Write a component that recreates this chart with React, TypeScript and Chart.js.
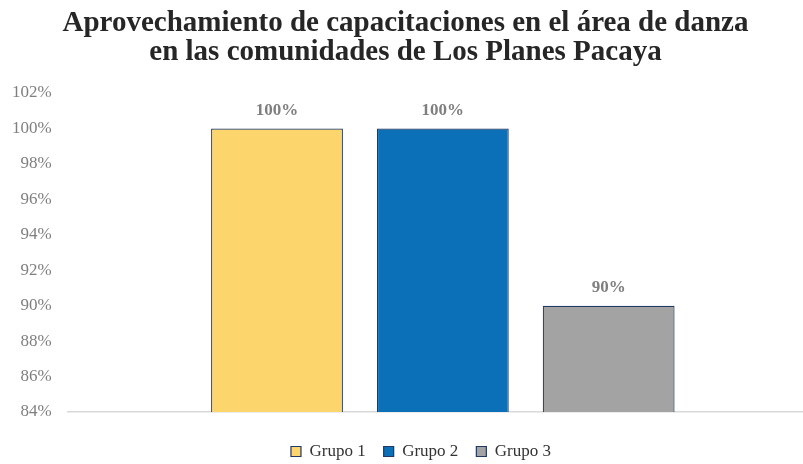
import React, { useEffect, useRef } from "react";
import { Chart, registerables } from "chart.js";

Chart.register(...registerables);

const titleLines = [
  "Aprovechamiento de capacitaciones en el área de danza",
  "en las comunidades de Los Planes Pacaya",
];
const categories = [""];
const groupNames = ["Grupo 1", "Grupo 2", "Grupo 3"];
const groupValues = [100, 100, 90];
const groupColors = ["#FCD66C", "#0C70B8", "#A3A3A3"];
const yMin = 84;
const yMax = 102;
const yStep = 2;

const SERIF = "'Liberation Serif', 'Times New Roman', serif";

const labelPlugin = {
  id: "barValueLabels",
  afterDatasetsDraw(chart: any) {
    const ctx = chart.ctx;
    ctx.save();
    ctx.font = `bold 17px ${SERIF}`;
    ctx.fillStyle = "#7F7F7F";
    ctx.textAlign = "center";
    ctx.textBaseline = "middle";
    chart.data.datasets.forEach((ds: any, i: number) => {
      const meta = chart.getDatasetMeta(i);
      meta.data.forEach((el: any, j: number) => {
        ctx.fillText(`${ds.data[j]}%`, el.x, el.y - 18);
      });
    });
    ctx.restore();
  },
};

const shiftPlugin = {
  id: "shiftBlocks",
  afterLayout(chart: any) {
    const t = chart.titleBlock;
    if (t) t.right -= 11;
    const l = chart.legend;
    if (l) {
      l.left += 10;
      l.right += 10;
    }
  },
};

export default function App() {
  const ref = useRef<HTMLCanvasElement>(null);
  useEffect(() => {
    if (!ref.current) return;
    const chart = new Chart(ref.current, {
      type: "bar",
      data: {
        labels: categories,
        datasets: groupNames.map((name, i) => ({
          label: name,
          data: [groupValues[i]],
          backgroundColor: groupColors[i],
          borderColor: "#1F3864",
          borderWidth: 1.2,
          categoryPercentage: 0.663,
          barPercentage: 0.795,
        })),
      },
      options: {
        animation: false,
        responsive: false,
        layout: { padding: { left: 4, right: 0, top: 0, bottom: -6 } },
        plugins: {
          title: {
            display: true,
            text: titleLines,
            color: "#262626",
            font: { family: SERIF, size: 29, weight: "bold", lineHeight: 0.966 },
            padding: { top: 10, bottom: 27 },
          },
          legend: {
            display: true,
            position: "bottom",
            labels: {
              boxWidth: 10,
              boxHeight: 10,
              padding: 18,
              color: "#333333",
              font: { family: SERIF, size: 17 },
            },
          },
          tooltip: { enabled: false },
        },
        scales: {
          x: {
            grid: { display: false },
            border: { display: true, color: "#D9D9D9", width: 1.5 },
            ticks: { display: false },
            afterFit: (scale: any) => {
              scale.height = 13;
            },
          },
          y: {
            min: yMin,
            max: yMax,
            grid: { display: false },
            border: { display: false },
            ticks: {
              stepSize: yStep,
              padding: 8,
              color: "#7F7F7F",
              font: { family: SERIF, size: 17 },
              callback: (v: any) => `${v}%`,
            },
          },
        },
      },
      plugins: [labelPlugin, shiftPlugin],
    });
    return () => chart.destroy();
  }, []);
  return (
    <div style={{ position: "fixed", left: 0, top: 0, width: 803, height: 464, overflow: "hidden", background: "#fff" }}>
      <canvas ref={ref} width={818} height={464} />
    </div>
  );
}
